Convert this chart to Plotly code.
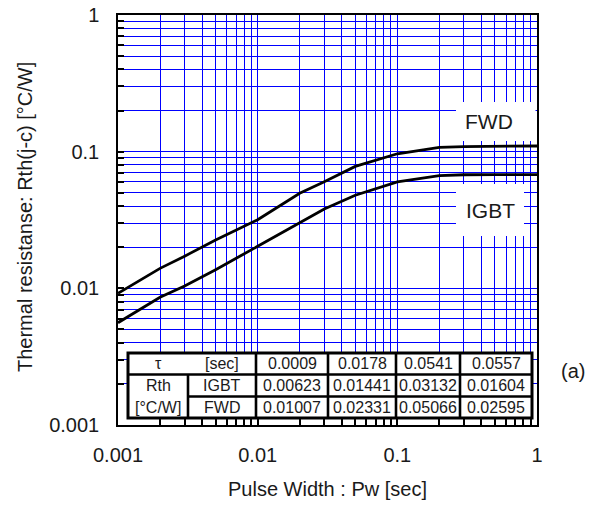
import plotly.graph_objects as go

# ---- data ----
pulse_width = [0.001, 0.002, 0.003, 0.005, 0.01, 0.02, 0.03, 0.05, 0.1, 0.2, 0.3, 0.5, 1.0]
rth_fwd = [0.0092, 0.0140, 0.0172, 0.0226, 0.0318, 0.0496, 0.0603, 0.0780, 0.0965, 0.1076, 0.1090, 0.1098, 0.1100]
rth_igbt = [0.0056, 0.0086, 0.0104, 0.0137, 0.0203, 0.0303, 0.0381, 0.0480, 0.0600, 0.0667, 0.0678, 0.0680, 0.0680]

tau_sec = ["0.0009", "0.0178", "0.0541", "0.0557"]
r_igbt = ["0.00623", "0.01441", "0.03132", "0.01604"]
r_fwd = ["0.01007", "0.02331", "0.05066", "0.02595"]

decades = [0.001, 0.01, 0.1, 1]
decade_labels = ["0.001", "0.01", "0.1", "1"]

# ---- layout geometry (pixels in the 598x506 window) ----
W, H = 598, 506
ML, MR, MT, MB = 118, 61, 15, 81
PW, PH = W - ML - MR, H - MT - MB


def px(x):
    return (x - ML) / PW


def py(y):
    return (H - MB - y) / PH


FONT = "Arial, Liberation Sans, sans-serif"
TXT = "#1a1a1a"

grid_vals = []
grid_text = []
for d in decades[:-1]:
    for k in range(1, 10):
        grid_vals.append(k * d)
        grid_text.append(decade_labels[decades.index(d)] if k == 1 else "")
grid_vals.append(1)
grid_text.append("1")

fig = go.Figure()
fig.add_trace(go.Scatter(x=pulse_width, y=rth_fwd, mode="lines",
                         line=dict(color="black", width=2.8), name="FWD",
                         showlegend=False))
fig.add_trace(go.Scatter(x=pulse_width, y=rth_igbt, mode="lines",
                         line=dict(color="black", width=2.8), name="IGBT",
                         showlegend=False))

axis_common = dict(
    type="log",
    tickmode="array",
    tickvals=grid_vals,
    ticktext=grid_text,
    showgrid=True,
    gridcolor="#0000ff",
    gridwidth=1,
    ticks="inside",
    ticklen=6,
    tickcolor="black",
    tickwidth=1.5,
    showline=True,
    linecolor="black",
    linewidth=1.5,
    mirror=True,
    zeroline=False,
    automargin=False,
    ticklabeloverflow="allow",
    tickfont=dict(family=FONT, size=20, color=TXT),
)

fig.update_xaxes(range=[-3, 0], title=dict(text="Pulse Width : Pw [sec]",
                 font=dict(family=FONT, size=20, color=TXT), standoff=17),
                 ticklabelstandoff=11, **axis_common)
fig.update_yaxes(range=[-3, 0], ticklabelstandoff=13, **axis_common)

shapes = []
annotations = []

# y-axis title placed as rotated text
annotations.append(dict(text="Thermal resistanse: Rth(j-c) [°C/W]", textangle=-90,
                        x=px(25), y=py(217), xref="paper", yref="paper",
                        xanchor="center", yanchor="middle", showarrow=False,
                        font=dict(family=FONT, size=20, color=TXT)))

# white boxes behind curve labels
shapes.append(dict(type="rect", xref="paper", yref="paper",
                   x0=px(456), x1=px(535.5), y0=py(141), y1=py(102),
                   fillcolor="white", line=dict(width=0), layer="above"))
shapes.append(dict(type="rect", xref="paper", yref="paper",
                   x0=px(456), x1=px(524), y0=py(236), y1=py(184),
                   fillcolor="white", line=dict(width=0), layer="above"))


def label(text, xc, yc, size):
    annotations.append(dict(text=text, x=px(xc), y=py(yc), xref="paper", yref="paper",
                            xanchor="center", yanchor="middle", showarrow=False,
                            font=dict(family=FONT, size=size, color=TXT)))


label("FWD", 489, 121.5, 21)
label("IGBT", 490, 210, 21)

# table
cols = [128, 188, 256, 328, 396, 460, 532]
rows = [353, 374.5, 396.5, 418]
lw = 2.6
shapes.append(dict(type="rect", xref="paper", yref="paper",
                   x0=px(cols[0]), x1=px(cols[-1]), y0=py(rows[-1]), y1=py(rows[0]),
                   fillcolor="white", line=dict(color="black", width=3), layer="above"))
shapes.append(dict(type="line", xref="paper", yref="paper",
                   x0=px(cols[0]), x1=px(cols[-1]), y0=py(rows[1]), y1=py(rows[1]),
                   line=dict(color="black", width=lw), layer="above"))
shapes.append(dict(type="line", xref="paper", yref="paper",
                   x0=px(cols[1]), x1=px(cols[-1]), y0=py(rows[2]), y1=py(rows[2]),
                   line=dict(color="black", width=lw), layer="above"))
shapes.append(dict(type="line", xref="paper", yref="paper",
                   x0=px(cols[1]), x1=px(cols[1]), y0=py(rows[-1]), y1=py(rows[1]),
                   line=dict(color="black", width=lw), layer="above"))
for c in cols[2:-1]:
    shapes.append(dict(type="line", xref="paper", yref="paper",
                       x0=px(c), x1=px(c), y0=py(rows[-1]), y1=py(rows[0]),
                       line=dict(color="black", width=lw), layer="above"))

row_c = [(rows[i] + rows[i + 1]) / 2 for i in range(3)]
label("τ", 158, row_c[0], 16)
label("[sec]", 222, row_c[0], 16)
label("Rth", 158, row_c[1], 16)
label("[°C/W]", 158, row_c[2], 16)
label("IGBT", 222, row_c[1], 16)
label("FWD", 222, row_c[2], 16)
for i in range(4):
    xc = (cols[i + 2] + cols[i + 3]) / 2
    label(tau_sec[i], xc, row_c[0], 16)
    label(r_igbt[i], xc, row_c[1], 16)
    label(r_fwd[i], xc, row_c[2], 16)

label("(a)", 573, 371, 20)

fig.update_layout(
    width=W, height=H,
    margin=dict(l=ML, r=MR, t=MT, b=MB, pad=0, autoexpand=False),
    paper_bgcolor="white", plot_bgcolor="white",
    shapes=shapes, annotations=annotations,
    showlegend=False,
)

fig.write_html("out.html",
               config={"displayModeBar": False},
               post_script="document.body.style.margin='0';document.body.style.overflow='hidden';")
